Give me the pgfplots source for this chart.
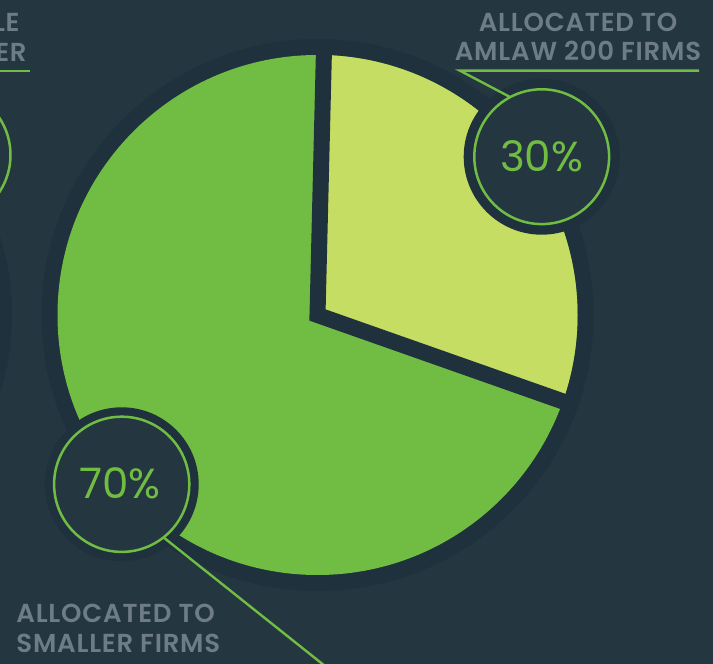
\documentclass[border=0pt]{standalone}
\usepackage{pgfplots}
\pgfplotsset{compat=1.18}
\usepackage{pgfplotstable}
\usepackage{fontspec}
\setmainfont{Poppins}
\newfontfamily\popsemi{Poppins SemiBold}[LetterSpace=3]
\definecolor{bg}{HTML}{243640}
\definecolor{ring}{HTML}{1E313D}
\definecolor{dgreen}{HTML}{71BD44}
\definecolor{lgreen}{HTML}{C5DD63}
\definecolor{lab}{HTML}{6E7C86}
\pgfplotstableread{
share value
smaller 70
amlaw 30
}\piedata
\begin{document}
\begin{tikzpicture}
\pgfplotstablegetelem{0}{value}\of\piedata \global\let\vsmall\pgfplotsretval
\pgfplotstablegetelem{1}{value}\of\piedata \global\let\vamlaw\pgfplotsretval
\pgfmathsetmacro\aStart{88.6}
\pgfmathsetmacro\aEnd{\aStart-3.6*\vamlaw}
\begin{axis}[at={(0,0)},anchor=south west, scale only axis, width=356.5pt, height=332pt,
  xmin=0,xmax=713,ymin=0,ymax=664, axis lines=none, clip=true]
\fill[bg] (axis cs:-10,-10) rectangle (axis cs:723,674);
% previous chart remnants at left
\fill[ring] (axis cs:-250,349) circle[radius=131pt];
\draw[dgreen, line width=1.25pt] (axis cs:-57,509) circle[radius=33.75pt];
\draw[dgreen, line width=1.2pt] (axis cs:-5,593) -- (axis cs:30,593);
\node[lab, font=\popsemi\fontsize{13}{15}\selectfont, anchor=base east, inner sep=0pt] at (axis cs:20,632) {LE};
\node[lab, font=\popsemi\fontsize{13}{15}\selectfont, anchor=base east, inner sep=0pt] at (axis cs:27,602) {ER};
% pie
\fill[ring] (axis cs:317.5,349) circle[radius=138pt];
\fill[dgreen] (axis cs:317.5,349) circle[radius=130pt];
\fill[lgreen] (axis cs:317.5,349) -- ++(\aStart:130pt) arc[start angle=\aStart, end angle=\aEnd, radius=130pt] -- cycle;
\draw[ring, line width=8pt, line join=miter] (axis cs:317.5,349) ++(\aStart:134pt) -- (axis cs:317.5,349) -- ++(\aEnd:134pt);
% label circles
\fill[ring] (axis cs:541.7,507.3) circle[radius=39pt];
\filldraw[fill=bg, draw=dgreen, line width=1.25pt] (axis cs:541.7,507.3) circle[radius=33.7pt];
\fill[ring] (axis cs:121.7,179.7) circle[radius=38.5pt];
\filldraw[fill=bg, draw=dgreen, line width=1.25pt] (axis cs:121.7,179.7) circle[radius=33.8pt];
% leader lines
\draw[dgreen, line width=1.2pt] (axis cs:699,593.3) -- (axis cs:460,593.3) -- (axis cs:510,567);
\draw[dgreen, line width=1.2pt] (axis cs:163,127) -- (axis cs:330,-6);
% texts
\node[dgreen, font=\fontsize{21}{23}\selectfont, anchor=base, inner sep=0pt] at (axis cs:541.7,492) {\vamlaw\%};
\node[dgreen, font=\fontsize{21}{23}\selectfont, anchor=base, inner sep=0pt] at (axis cs:120,165) {\vsmall\%};
\node[lab, font=\popsemi\fontsize{13}{15}\selectfont, anchor=base, inner sep=0pt] at (axis cs:578,632) {ALLOCATED TO};
\node[lab, font=\popsemi\fontsize{13}{15}\selectfont, anchor=base, inner sep=0pt] at (axis cs:578,603) {AMLAW 200 FIRMS};
\node[lab, font=\popsemi\fontsize{13}{15}\selectfont, anchor=base west, inner sep=0pt] at (axis cs:16,41) {ALLOCATED TO};
\node[lab, font=\popsemi\fontsize{13}{15}\selectfont, anchor=base west, inner sep=0pt] at (axis cs:16,11) {SMALLER FIRMS};
\end{axis}
\pgfresetboundingbox
\useasboundingbox (0,0) rectangle (356.5pt,332pt);
\end{tikzpicture}
\end{document}
